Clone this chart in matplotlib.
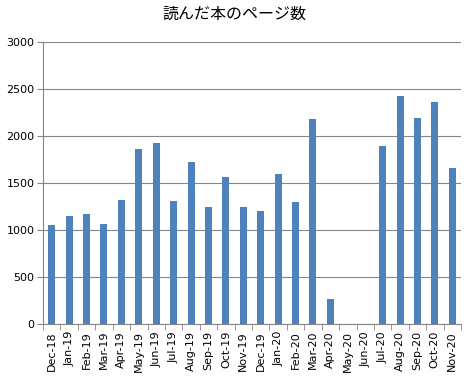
import matplotlib
matplotlib.use('Agg')
import matplotlib.pyplot as plt
import numpy as np

# monthly page counts, Dec-18 .. Nov-20
months = ['Dec-18', 'Jan-19', 'Feb-19', 'Mar-19', 'Apr-19', 'May-19', 'Jun-19',
          'Jul-19', 'Aug-19', 'Sep-19', 'Oct-19', 'Nov-19', 'Dec-19', 'Jan-20',
          'Feb-20', 'Mar-20', 'Apr-20', 'May-20', 'Jun-20', 'Jul-20', 'Aug-20',
          'Sep-20', 'Oct-20', 'Nov-20']
pages = [1055, 1150, 1172, 1066, 1320, 1862, 1926, 1310, 1725, 1247, 1565, 1247,
         1204, 1600, 1300, 2182, 270, 0, 0, 1895, 2425, 2192, 2362, 1661]
yticks = [0, 500, 1000, 1500, 2000, 2500, 3000]

plt.rcParams['font.family'] = ['DejaVu Sans']

fig = plt.figure(figsize=(4.69, 3.79), dpi=100)
ax = fig.add_axes([43/469, 55/379, 418/469, 282/379])

x = np.arange(len(months))
ax.bar(x, pages, width=0.4, color='#4F81BD', zorder=3)

ax.set_xlim(-0.5, len(months) - 0.5)
ax.set_ylim(0, 3000)
ax.set_yticks(yticks)
ax.tick_params(axis='y', labelsize=8, length=4, color='#868686', pad=2)
ax.yaxis.grid(True, color='#868686', linewidth=0.8, zorder=0)

ax.set_xticks(x)
ax.set_xticklabels(months, rotation=90, fontsize=8)
ax.tick_params(axis='x', length=0, pad=5)
ax.set_xticks(np.arange(len(months) + 1) - 0.5, minor=True)
ax.tick_params(axis='x', which='minor', length=4, color='#868686')

for s in ['top', 'right']:
    ax.spines[s].set_visible(False)
for s in ['left', 'bottom']:
    ax.spines[s].set_color('#868686')

fig.text(0.5, 1 - 14/379, '読んだ本のページ数', ha='center', va='center',
         fontsize=11.5, family=['Noto Sans CJK JP', 'DejaVu Sans'])

fig.savefig('out.png', dpi=100)
